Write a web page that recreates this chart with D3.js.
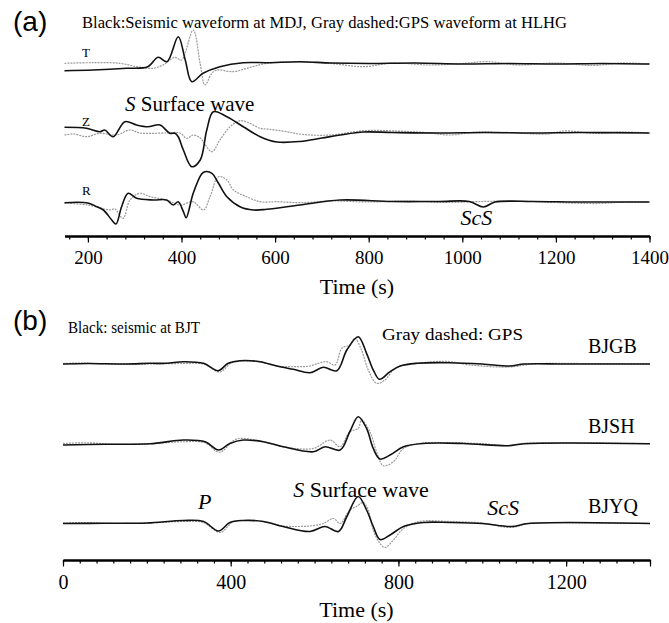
<!DOCTYPE html>
<html lang="en">
<head>
<meta charset="UTF-8">
<title>Seismic vs GPS waveforms</title>
<script src="https://d3js.org/d3.v7.min.js"></script>
<style>
  body { margin: 0; background: #fff; }
  svg { display: block; font-family: "Liberation Serif", "Times New Roman", serif; }
  .seis { fill: none; stroke: #111; stroke-width: 1.6; }
  .gps { fill: none; stroke: #9a9a9a; stroke-width: 1.2; stroke-dasharray: 2 1; }
  .axis path, .axis line { stroke: #000; }
  .axis path { stroke-width: 2; }
  .axis line { stroke-width: 1.2; }
</style>
</head>
<body>
<div id="chart"></div>
<script>
const width = 669, height = 623;

// panel (a): [time (s), relative amplitude], black = seismic at MDJ, gray = GPS at HLHG
const compsA = ["T", "Z", "R"];
const mdjT = [[150,-0.67],[211,-0.6],[283,-0.43],[328,-0.27],[350,0.67],[369,0.23],[393,2.73],[408,0.4],[422,-1.77],[446,-0.93],[482,-0.27],[532,0.13],[583,0.13],[653,0.23],[720,0.1],[800,0.05],[900,0.1],[1000,0],[1100,0.05],[1200,0],[1300,0.05],[1400,0]];
const hlhgT = [[150,0.07],[211,0.13],[269,0.07],[305,-0.27],[339,-0.43],[360,-0.1],[386,0.67],[400,0.4],[425,3.4],[440,0],[450,-2.1],[465,-0.93],[475,-0.6],[510,-0.77],[540,-0.43],[582,0.07],[653,0.2],[720,0.05],[789,-0.27],[850,0.1],[930,-0.1],[1000,0.05],[1053,0.23],[1120,-0.1],[1200,0.1],[1280,-0.15],[1340,0.1],[1400,0]];
const mdjZ = [[150,0.57],[197,0.47],[226,0.13],[236,0.3],[254,-0.37],[279,1.13],[304,0.8],[328,0.63],[354,0.8],[375,-0.03],[386,-0.03],[393,-0.37],[404,-1.7],[422,-3.37],[440,-2.7],[454,0.3],[468,2.13],[497,1.63],[532,0.63],[568,-0.37],[604,-0.9],[653,-0.85],[700,-0.5],[739,-0.2],[789,0.1],[850,0.05],[950,0],[1050,0.05],[1150,0],[1250,0.05],[1400,0]];
const hlhgZ = [[150,-0.2],[170,-0.1],[197,-0.37],[226,-0.03],[261,-0.2],[290,0.3],[311,0],[368,0],[397,0],[411,-0.53],[425,-0.2],[440,-0.5],[465,-1.87],[482,-0.7],[504,0.63],[525,1.23],[546,0.97],[568,0.47],[589,0.37],[625,0.13],[660,-0.15],[720,-0.2],[789,0.23],[860,0.2],[920,0.05],[974,-0.2],[1030,0.1],[1100,0.05],[1182,-0.1],[1217,0.2],[1290,-0.05],[1340,0.1],[1400,0]];
const mdjR = [[150,-0.07],[200,-0.1],[219,-0.47],[233,-0.8],[251,-1.8],[260,-2.2],[272,-0.47],[286,0.87],[304,0.37],[340,0.2],[368,0.2],[382,-0.3],[393,0.03],[404,-0.97],[410,-1.57],[425,0.87],[443,2.8],[450,3.03],[465,2.87],[479,1.87],[497,0.53],[525,-0.47],[554,-0.8],[582,-0.73],[653,-0.3],[739,0.2],[850,0.05],[950,0.05],[1015,0.05],[1045,-0.5],[1070,0],[1150,0.05],[1250,0],[1400,0]];
const hlhgR = [[150,-0.1],[200,-0.3],[247,-0.8],[258,-0.7],[275,-1.63],[290,0.2],[311,0.87],[333,0.53],[368,0.2],[397,-0.3],[425,0.03],[447,-0.8],[461,0.53],[479,2.53],[497,2.2],[511,1.2],[539,0.53],[568,0.03],[604,0.03],[653,-0.07],[720,0.1],[800,0],[880,0.1],[960,-0.05],[1040,0.05],[1120,0.1],[1200,-0.05],[1290,-0.15],[1350,0],[1400,0]];

// panel (b): black = seismic at BJT, gray = GPS stations
const stationsB = ["BJGB", "BJSH", "BJYQ"];
const bjgbSeis = [[0,0],[60,0.05],[150,0],[207,0.07],[247,0.07],[287,0.23],[335,0.07],[370,-0.67],[394,0.07],[422,0.33],[470,0.23],[510,-0.2],[549,-0.53],[589,-0.87],[621,-0.33],[653,-0.67],[677,1.4],[704,2.73],[724,1.07],[740,-0.6],[755,-1.53],[780,-0.77],[804,-0.2],[844,0.07],[923,0.13],[1000,0],[1066,-0.2],[1100,0],[1200,0],[1400,0]];
const bjgbGps = [[0,0.05],[40,0.1],[100,0],[207,0],[287,0.05],[335,0],[374,-0.8],[400,0.07],[422,0.27],[470,0.2],[510,-0.2],[557,-0.27],[589,-0.2],[609,0.07],[629,0.23],[649,-0.1],[665,1.57],[684,1.9],[696,2.57],[712,1.4],[728,-0.6],[748,-1.93],[768,-1.6],[788,-0.6],[812,-0.1],[850,0.1],[915,0.27],[971,-0.1],[1066,-0.3],[1120,0],[1250,0.05],[1400,0]];
const bjshSeis = [[0,-0.13],[100,-0.05],[207,0],[287,0.37],[339,0.2],[371,-0.63],[398,0.03],[430,0.37],[478,0.2],[525,-0.3],[597,-0.8],[625,-0.3],[661,-0.63],[684,1.2],[704,2.7],[724,1.53],[740,-0.47],[756,-1.53],[780,-1.13],[812,-0.3],[859,0.03],[955,0.03],[1062,-0.2],[1100,0],[1400,0]];
const bjshGps = [[0,0.03],[60,0.1],[120,-0.05],[207,0],[287,0.2],[339,0.1],[373,-0.85],[414,0.47],[478,0.2],[525,-0.3],[597,-0.47],[637,0.37],[661,-0.3],[684,1.2],[704,1.53],[712,2.37],[732,1.2],[748,-0.8],[764,-2.2],[788,-1.8],[812,-0.47],[850,0.03],[930,0.1],[1000,0],[1062,-0.2],[1100,0.05],[1400,0]];
const bjyqSeis = [[0,0],[100,0.02],[200,0.05],[287,0.3],[335,0.2],[371,-0.75],[398,0.1],[430,0.3],[478,0.2],[525,-0.3],[589,-0.8],[625,-0.3],[657,-0.8],[677,0.7],[704,2.7],[724,1.35],[740,-0.3],[756,-1.6],[780,-1.15],[812,-0.3],[859,0.1],[923,0.1],[1000,0],[1070,-0.3],[1110,0],[1400,0]];
const bjyqGps = [[0,0.05],[50,0.1],[120,0],[200,0.05],[287,0.2],[335,0.1],[375,-0.9],[406,0.2],[430,0.3],[478,0.2],[525,-0.25],[557,-0.3],[589,-0.25],[621,0],[645,0.5],[661,0],[684,1.35],[700,1.7],[716,2.1],[728,1.35],[740,-0.65],[756,-2.0],[768,-2.4],[788,-1.65],[812,-0.5],[850,0.2],[923,0.2],[1000,0.05],[1070,-0.4],[1110,0],[1250,0.05],[1400,0]];

const majorTicksA = [200, 400, 600, 800, 1000, 1200, 1400];
const minorTicksA = d3.range(160, 1401, 40);
const majorTicksB = [0, 400, 800, 1200, 1400];
const minorTicksB = d3.range(0, 1401, 40);

const svg = d3.select("#chart").append("svg")
    .attr("width", width)
    .attr("height", height);

const amp = d3.scaleLinear().domain([-1, 1]).range([10, -10]);

const xA = d3.scaleLinear().domain([150, 1400]).range([64.5, 649.5]);
const yA = d3.scalePoint().domain(compsA).range([64, 202]);
const xB = d3.scaleLinear().domain([0, 1400]).range([63, 650]);
const yB = d3.scalePoint().domain(stationsB).range([364, 523.5]);

function trace(x, base, data, cls) {
    const line = d3.line()
        .x(d => x(d[0]))
        .y(d => base + amp(d[1]))
        .curve(d3.curveCatmullRom.alpha(0.5));
    svg.append("path").attr("class", cls).attr("d", line(data));
}

function axis(x, y, minor, major, fmt, size) {
    svg.append("g")
        .attr("class", "axis")
        .attr("transform", `translate(0,${y})`)
        .call(d3.axisBottom(x).tickValues(minor).tickSize(3.5).tickSizeOuter(0).tickFormat(""));
    svg.append("g")
        .attr("class", "axis")
        .attr("transform", `translate(0,${y})`)
        .call(d3.axisBottom(x).tickValues(major).tickSize(6.5).tickSizeOuter(0).tickPadding(8.5).tickFormat(fmt))
        .selectAll("text")
        .style("font-family", "'Liberation Serif', 'Times New Roman', serif")
        .style("font-size", size + "px")
        .style("fill", "#000");
}

// panel (a)
const seisA = { T: mdjT, Z: mdjZ, R: mdjR };
const gpsA = { T: hlhgT, Z: hlhgZ, R: hlhgR };
compsA.forEach(c => {
    trace(xA, yA(c), gpsA[c], "gps");
    trace(xA, yA(c), seisA[c], "seis");
    svg.append("text")
        .attr("x", 82).attr("y", yA(c) - 7)
        .style("font-size", "13px")
        .text(c);
});
axis(xA, 236, minorTicksA, majorTicksA, d => d, 19);

svg.append("text").attr("x", 13).attr("y", 31)
    .style("font-family", "'Liberation Sans', Arial, sans-serif").style("font-size", "28px")
    .text("(a)");
svg.append("text").attr("x", 82).attr("y", 28)
    .style("font-size", "16px")
    .attr("textLength", 485).attr("lengthAdjust", "spacingAndGlyphs")
    .text("Black:Seismic waveform at MDJ, Gray dashed:GPS waveform at HLHG");

const swA = svg.append("text").attr("x", 125).attr("y", 111).style("font-size", "21px");
swA.append("tspan").style("font-style", "italic").text("S");
swA.append("tspan").text(" Surface wave");

svg.append("text").attr("x", xA(1030)).attr("y", 225)
    .attr("text-anchor", "middle").style("font-size", "22px").style("font-style", "italic")
    .text("ScS");

svg.append("text").attr("x", (xA.range()[0] + xA.range()[1]) / 2).attr("y", 294)
    .attr("text-anchor", "middle").style("font-size", "22px")
    .text("Time (s)");

// panel (b)
const seisB = { BJGB: bjgbSeis, BJSH: bjshSeis, BJYQ: bjyqSeis };
const gpsB = { BJGB: bjgbGps, BJSH: bjshGps, BJYQ: bjyqGps };
stationsB.forEach(s => {
    trace(xB, yB(s), gpsB[s], "gps");
    trace(xB, yB(s), seisB[s], "seis");
    svg.append("text")
        .attr("x", 588).attr("y", yB(s) - 11)
        .style("font-size", "20px")
        .text(s);
});
axis(xB, 560, minorTicksB, majorTicksB, d => d === 1400 ? "" : d, 20);

svg.append("text").attr("x", 13).attr("y", 330)
    .style("font-family", "'Liberation Sans', Arial, sans-serif").style("font-size", "28px")
    .text("(b)");
svg.append("text").attr("x", 68).attr("y", 333)
    .style("font-size", "17px")
    .attr("textLength", 132).attr("lengthAdjust", "spacingAndGlyphs")
    .text("Black: seismic at BJT");
svg.append("text").attr("x", 382).attr("y", 340)
    .style("font-size", "17px")
    .attr("textLength", 141).attr("lengthAdjust", "spacingAndGlyphs")
    .text("Gray dashed: GPS");

svg.append("text").attr("x", xB(322)).attr("y", 509)
    .style("font-size", "22px").style("font-style", "italic")
    .text("P");

const swB = svg.append("text").attr("x", xB(549)).attr("y", 497).style("font-size", "22px");
swB.append("tspan").style("font-style", "italic").text("S");
swB.append("tspan").text(" Surface wave");

svg.append("text").attr("x", xB(1050)).attr("y", 515)
    .attr("text-anchor", "middle").style("font-size", "22px").style("font-style", "italic")
    .text("ScS");

svg.append("text").attr("x", (xB.range()[0] + xB.range()[1]) / 2).attr("y", 617)
    .attr("text-anchor", "middle").style("font-size", "22px")
    .text("Time (s)");
</script>
</body>
</html>
